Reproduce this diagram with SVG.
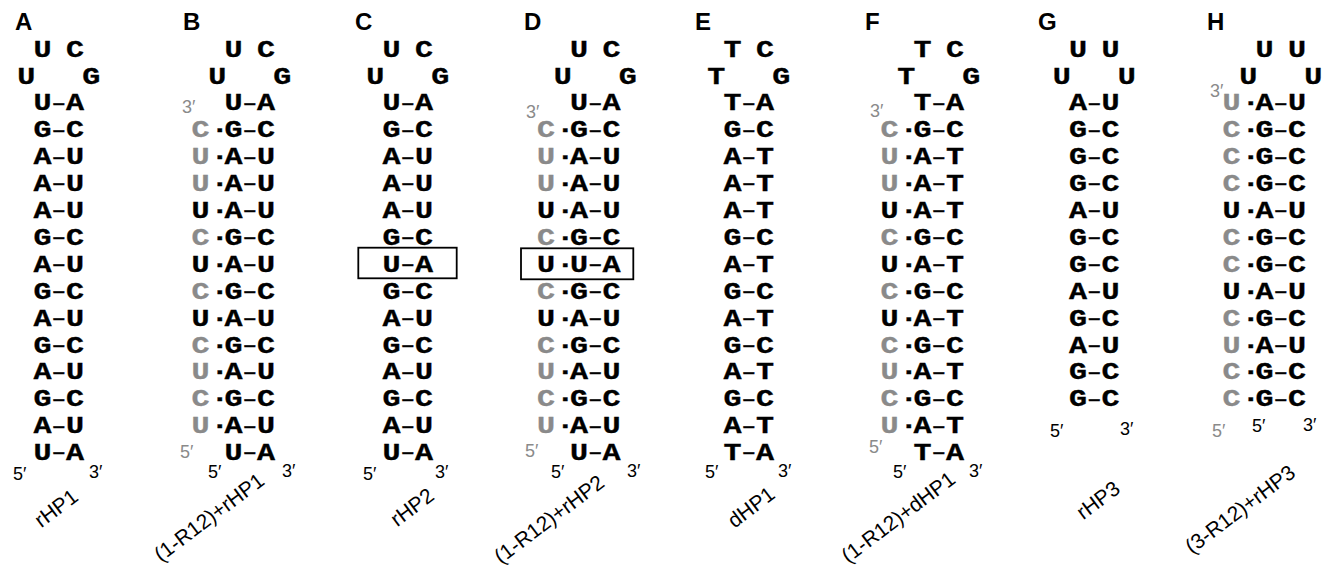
<svg xmlns="http://www.w3.org/2000/svg" width="1331" height="568" viewBox="0 0 1331 568">
<style>
.b{font-family:"Liberation Mono","DejaVu Sans Mono",monospace;font-weight:bold;font-size:23.5px;fill:#000;stroke:#000;stroke-width:0.3;text-anchor:middle}
.g{font-family:"Liberation Mono","DejaVu Sans Mono",monospace;font-weight:bold;font-size:23.5px;fill:#8a8a8a;stroke:#8a8a8a;stroke-width:0.3;text-anchor:middle}
.d{font-size:19px;baseline-shift:2px}
.e{font-family:"Liberation Sans",Arial,sans-serif;font-size:18px;fill:#000}
.eg{font-family:"Liberation Sans",Arial,sans-serif;font-size:18px;fill:#8a8a8a}
.pl{font-family:"Liberation Sans",Arial,sans-serif;font-weight:bold;font-size:24px;fill:#000}
.nm{font-family:"Liberation Sans",Arial,sans-serif;font-size:21px;fill:#000;text-anchor:middle}
.box{fill:none;stroke:#000;stroke-width:1.8}
</style>
<rect width="1331" height="568" fill="#fff"/>

<g id="panelA">
<text class="pl" x="15" y="30">A</text>
<g transform="translate(42.5,0) scale(1.28,1)">
<text class="b" x="0 25.39" y="56.7">UC</text>
<text class="b" x="-12.66 38.13" y="83.6">UG</text>
<text class="b" x="0 12.7 25.39" y="110.5">U<tspan class="d">–</tspan>A</text>
<text class="b" x="0 12.7 25.39" y="137.4">G<tspan class="d">–</tspan>C</text>
<text class="b" x="0 12.7 25.39" y="164.3">A<tspan class="d">–</tspan>U</text>
<text class="b" x="0 12.7 25.39" y="191.2">A<tspan class="d">–</tspan>U</text>
<text class="b" x="0 12.7 25.39" y="218.1">A<tspan class="d">–</tspan>U</text>
<text class="b" x="0 12.7 25.39" y="245.0">G<tspan class="d">–</tspan>C</text>
<text class="b" x="0 12.7 25.39" y="271.9">A<tspan class="d">–</tspan>U</text>
<text class="b" x="0 12.7 25.39" y="298.8">G<tspan class="d">–</tspan>C</text>
<text class="b" x="0 12.7 25.39" y="325.7">A<tspan class="d">–</tspan>U</text>
<text class="b" x="0 12.7 25.39" y="352.6">G<tspan class="d">–</tspan>C</text>
<text class="b" x="0 12.7 25.39" y="379.5">A<tspan class="d">–</tspan>U</text>
<text class="b" x="0 12.7 25.39" y="406.4">G<tspan class="d">–</tspan>C</text>
<text class="b" x="0 12.7 25.39" y="433.3">A<tspan class="d">–</tspan>U</text>
<text class="b" x="0 12.7 25.39" y="460.2">U<tspan class="d">–</tspan>A</text>
</g>
<text class="e" x="13" y="480">5′</text>
<text class="e" x="89" y="478">3′</text>
<text class="nm" transform="translate(56,508) rotate(-37)" dy="0.35em">rHP1</text>
</g>

<g id="panelB">
<text class="pl" x="183" y="30">B</text>
<text class="eg" x="182" y="113">3′</text>
<g transform="translate(233.5,0) scale(1.28,1)">
<text class="b" x="0 25.39" y="56.7">UC</text>
<text class="b" x="-12.66 38.13" y="83.6">UG</text>
<text class="b" x="0 12.7 25.39" y="110.5">U<tspan class="d">–</tspan>A</text>
<text class="g" x="-25.78" y="137.4">C</text><text class="b" x="-10.7 0 12.7 25.39" y="137.4">·G<tspan class="d">–</tspan>C</text>
<text class="g" x="-25.78" y="164.3">U</text><text class="b" x="-10.7 0 12.7 25.39" y="164.3">·A<tspan class="d">–</tspan>U</text>
<text class="g" x="-25.78" y="191.2">U</text><text class="b" x="-10.7 0 12.7 25.39" y="191.2">·A<tspan class="d">–</tspan>U</text>
<text class="b" x="-25.78 -10.7 0 12.7 25.39" y="218.1">U·A<tspan class="d">–</tspan>U</text>
<text class="g" x="-25.78" y="245.0">C</text><text class="b" x="-10.7 0 12.7 25.39" y="245.0">·G<tspan class="d">–</tspan>C</text>
<text class="b" x="-25.78 -10.7 0 12.7 25.39" y="271.9">U·A<tspan class="d">–</tspan>U</text>
<text class="g" x="-25.78" y="298.8">C</text><text class="b" x="-10.7 0 12.7 25.39" y="298.8">·G<tspan class="d">–</tspan>C</text>
<text class="b" x="-25.78 -10.7 0 12.7 25.39" y="325.7">U·A<tspan class="d">–</tspan>U</text>
<text class="g" x="-25.78" y="352.6">C</text><text class="b" x="-10.7 0 12.7 25.39" y="352.6">·G<tspan class="d">–</tspan>C</text>
<text class="g" x="-25.78" y="379.5">U</text><text class="b" x="-10.7 0 12.7 25.39" y="379.5">·A<tspan class="d">–</tspan>U</text>
<text class="g" x="-25.78" y="406.4">C</text><text class="b" x="-10.7 0 12.7 25.39" y="406.4">·G<tspan class="d">–</tspan>C</text>
<text class="g" x="-25.78" y="433.3">U</text><text class="b" x="-10.7 0 12.7 25.39" y="433.3">·A<tspan class="d">–</tspan>U</text>
<text class="b" x="0 12.7 25.39" y="460.2">U<tspan class="d">–</tspan>A</text>
</g>
<text class="eg" x="180" y="458">5′</text>
<text class="e" x="208" y="478">5′</text>
<text class="e" x="282" y="477">3′</text>
<text class="nm" transform="translate(209,517) rotate(-37)" dy="0.35em">(1-R12)+rHP1</text>
</g>

<g id="panelC">
<text class="pl" x="355" y="30">C</text>
<rect class="box" x="358.3" y="247.7" width="98.4" height="30.6"/>
<g transform="translate(391.5,0) scale(1.28,1)">
<text class="b" x="0 25.39" y="56.7">UC</text>
<text class="b" x="-12.66 38.13" y="83.6">UG</text>
<text class="b" x="0 12.7 25.39" y="110.5">U<tspan class="d">–</tspan>A</text>
<text class="b" x="0 12.7 25.39" y="137.4">G<tspan class="d">–</tspan>C</text>
<text class="b" x="0 12.7 25.39" y="164.3">A<tspan class="d">–</tspan>U</text>
<text class="b" x="0 12.7 25.39" y="191.2">A<tspan class="d">–</tspan>U</text>
<text class="b" x="0 12.7 25.39" y="218.1">A<tspan class="d">–</tspan>U</text>
<text class="b" x="0 12.7 25.39" y="245.0">G<tspan class="d">–</tspan>C</text>
<text class="b" x="0 12.7 25.39" y="271.9">U<tspan class="d">–</tspan>A</text>
<text class="b" x="0 12.7 25.39" y="298.8">G<tspan class="d">–</tspan>C</text>
<text class="b" x="0 12.7 25.39" y="325.7">A<tspan class="d">–</tspan>U</text>
<text class="b" x="0 12.7 25.39" y="352.6">G<tspan class="d">–</tspan>C</text>
<text class="b" x="0 12.7 25.39" y="379.5">A<tspan class="d">–</tspan>U</text>
<text class="b" x="0 12.7 25.39" y="406.4">G<tspan class="d">–</tspan>C</text>
<text class="b" x="0 12.7 25.39" y="433.3">A<tspan class="d">–</tspan>U</text>
<text class="b" x="0 12.7 25.39" y="460.2">U<tspan class="d">–</tspan>A</text>
</g>
<text class="e" x="363" y="480">5′</text>
<text class="e" x="435" y="478">3′</text>
<text class="nm" transform="translate(412,507) rotate(-37)" dy="0.35em">rHP2</text>
</g>

<g id="panelD">
<text class="pl" x="524" y="30">D</text>
<text class="eg" x="526" y="118">3′</text>
<rect class="box" x="521" y="248.3" width="112.3" height="31"/>
<g transform="translate(579,0) scale(1.28,1)">
<text class="b" x="0 25.39" y="56.7">UC</text>
<text class="b" x="-12.66 38.13" y="83.6">UG</text>
<text class="b" x="0 12.7 25.39" y="110.5">U<tspan class="d">–</tspan>A</text>
<text class="g" x="-25.78" y="137.4">C</text><text class="b" x="-10.7 0 12.7 25.39" y="137.4">·G<tspan class="d">–</tspan>C</text>
<text class="g" x="-25.78" y="164.3">U</text><text class="b" x="-10.7 0 12.7 25.39" y="164.3">·A<tspan class="d">–</tspan>U</text>
<text class="g" x="-25.78" y="191.2">U</text><text class="b" x="-10.7 0 12.7 25.39" y="191.2">·A<tspan class="d">–</tspan>U</text>
<text class="b" x="-25.78 -10.7 0 12.7 25.39" y="218.1">U·A<tspan class="d">–</tspan>U</text>
<text class="g" x="-25.78" y="245.0">C</text><text class="b" x="-10.7 0 12.7 25.39" y="245.0">·G<tspan class="d">–</tspan>C</text>
<text class="b" x="-25.78 -10.7 0 12.7 25.39" y="271.9">U·U<tspan class="d">–</tspan>A</text>
<text class="g" x="-25.78" y="298.8">C</text><text class="b" x="-10.7 0 12.7 25.39" y="298.8">·G<tspan class="d">–</tspan>C</text>
<text class="b" x="-25.78 -10.7 0 12.7 25.39" y="325.7">U·A<tspan class="d">–</tspan>U</text>
<text class="g" x="-25.78" y="352.6">C</text><text class="b" x="-10.7 0 12.7 25.39" y="352.6">·G<tspan class="d">–</tspan>C</text>
<text class="g" x="-25.78" y="379.5">U</text><text class="b" x="-10.7 0 12.7 25.39" y="379.5">·A<tspan class="d">–</tspan>U</text>
<text class="g" x="-25.78" y="406.4">C</text><text class="b" x="-10.7 0 12.7 25.39" y="406.4">·G<tspan class="d">–</tspan>C</text>
<text class="g" x="-25.78" y="433.3">U</text><text class="b" x="-10.7 0 12.7 25.39" y="433.3">·A<tspan class="d">–</tspan>U</text>
<text class="b" x="0 12.7 25.39" y="460.2">U<tspan class="d">–</tspan>A</text>
</g>
<text class="eg" x="525" y="457">5′</text>
<text class="e" x="551" y="478">5′</text>
<text class="e" x="627" y="477">3′</text>
<text class="nm" transform="translate(549,519) rotate(-37)" dy="0.35em">(1-R12)+rHP2</text>
</g>

<g id="panelE">
<text class="pl" x="695" y="30">E</text>
<g transform="translate(732.5,0) scale(1.28,1)">
<text class="b" x="0 25.39" y="56.7">TC</text>
<text class="b" x="-12.66 38.13" y="83.6">TG</text>
<text class="b" x="0 12.7 25.39" y="110.5">T<tspan class="d">–</tspan>A</text>
<text class="b" x="0 12.7 25.39" y="137.4">G<tspan class="d">–</tspan>C</text>
<text class="b" x="0 12.7 25.39" y="164.3">A<tspan class="d">–</tspan>T</text>
<text class="b" x="0 12.7 25.39" y="191.2">A<tspan class="d">–</tspan>T</text>
<text class="b" x="0 12.7 25.39" y="218.1">A<tspan class="d">–</tspan>T</text>
<text class="b" x="0 12.7 25.39" y="245.0">G<tspan class="d">–</tspan>C</text>
<text class="b" x="0 12.7 25.39" y="271.9">A<tspan class="d">–</tspan>T</text>
<text class="b" x="0 12.7 25.39" y="298.8">G<tspan class="d">–</tspan>C</text>
<text class="b" x="0 12.7 25.39" y="325.7">A<tspan class="d">–</tspan>T</text>
<text class="b" x="0 12.7 25.39" y="352.6">G<tspan class="d">–</tspan>C</text>
<text class="b" x="0 12.7 25.39" y="379.5">A<tspan class="d">–</tspan>T</text>
<text class="b" x="0 12.7 25.39" y="406.4">G<tspan class="d">–</tspan>C</text>
<text class="b" x="0 12.7 25.39" y="433.3">A<tspan class="d">–</tspan>T</text>
<text class="b" x="0 12.7 25.39" y="460.2">T<tspan class="d">–</tspan>A</text>
</g>
<text class="e" x="705" y="478">5′</text>
<text class="e" x="778" y="477">3′</text>
<text class="nm" transform="translate(751,507) rotate(-37)" dy="0.35em">dHP1</text>
</g>

<g id="panelF">
<text class="pl" x="865" y="30">F</text>
<text class="eg" x="870" y="117">3′</text>
<g transform="translate(922.5,0) scale(1.28,1)">
<text class="b" x="0 25.39" y="56.7">TC</text>
<text class="b" x="-12.66 38.13" y="83.6">TG</text>
<text class="b" x="0 12.7 25.39" y="110.5">T<tspan class="d">–</tspan>A</text>
<text class="g" x="-25.78" y="137.4">C</text><text class="b" x="-10.7 0 12.7 25.39" y="137.4">·G<tspan class="d">–</tspan>C</text>
<text class="g" x="-25.78" y="164.3">U</text><text class="b" x="-10.7 0 12.7 25.39" y="164.3">·A<tspan class="d">–</tspan>T</text>
<text class="g" x="-25.78" y="191.2">U</text><text class="b" x="-10.7 0 12.7 25.39" y="191.2">·A<tspan class="d">–</tspan>T</text>
<text class="b" x="-25.78 -10.7 0 12.7 25.39" y="218.1">U·A<tspan class="d">–</tspan>T</text>
<text class="g" x="-25.78" y="245.0">C</text><text class="b" x="-10.7 0 12.7 25.39" y="245.0">·G<tspan class="d">–</tspan>C</text>
<text class="b" x="-25.78 -10.7 0 12.7 25.39" y="271.9">U·A<tspan class="d">–</tspan>T</text>
<text class="g" x="-25.78" y="298.8">C</text><text class="b" x="-10.7 0 12.7 25.39" y="298.8">·G<tspan class="d">–</tspan>C</text>
<text class="b" x="-25.78 -10.7 0 12.7 25.39" y="325.7">U·A<tspan class="d">–</tspan>T</text>
<text class="g" x="-25.78" y="352.6">C</text><text class="b" x="-10.7 0 12.7 25.39" y="352.6">·G<tspan class="d">–</tspan>C</text>
<text class="g" x="-25.78" y="379.5">U</text><text class="b" x="-10.7 0 12.7 25.39" y="379.5">·A<tspan class="d">–</tspan>T</text>
<text class="g" x="-25.78" y="406.4">C</text><text class="b" x="-10.7 0 12.7 25.39" y="406.4">·G<tspan class="d">–</tspan>C</text>
<text class="g" x="-25.78" y="433.3">U</text><text class="b" x="-10.7 0 12.7 25.39" y="433.3">·A<tspan class="d">–</tspan>T</text>
<text class="b" x="0 12.7 25.39" y="460.2">T<tspan class="d">–</tspan>A</text>
</g>
<text class="eg" x="869" y="453">5′</text>
<text class="e" x="893" y="478">5′</text>
<text class="e" x="969" y="477">3′</text>
<text class="nm" transform="translate(898,517) rotate(-37)" dy="0.35em">(1-R12)+dHP1</text>
</g>

<g id="panelG">
<text class="pl" x="1038" y="30">G</text>
<g transform="translate(1078,0) scale(1.28,1)">
<text class="b" x="0 25.39" y="56.7">UU</text>
<text class="b" x="-12.66 38.13" y="83.6">UU</text>
<text class="b" x="0 12.7 25.39" y="110.5">A<tspan class="d">–</tspan>U</text>
<text class="b" x="0 12.7 25.39" y="137.4">G<tspan class="d">–</tspan>C</text>
<text class="b" x="0 12.7 25.39" y="164.3">G<tspan class="d">–</tspan>C</text>
<text class="b" x="0 12.7 25.39" y="191.2">G<tspan class="d">–</tspan>C</text>
<text class="b" x="0 12.7 25.39" y="218.1">A<tspan class="d">–</tspan>U</text>
<text class="b" x="0 12.7 25.39" y="245.0">G<tspan class="d">–</tspan>C</text>
<text class="b" x="0 12.7 25.39" y="271.9">G<tspan class="d">–</tspan>C</text>
<text class="b" x="0 12.7 25.39" y="298.8">A<tspan class="d">–</tspan>U</text>
<text class="b" x="0 12.7 25.39" y="325.7">G<tspan class="d">–</tspan>C</text>
<text class="b" x="0 12.7 25.39" y="352.6">A<tspan class="d">–</tspan>U</text>
<text class="b" x="0 12.7 25.39" y="379.5">G<tspan class="d">–</tspan>C</text>
<text class="b" x="0 12.7 25.39" y="406.4">G<tspan class="d">–</tspan>C</text>
</g>
<text class="e" x="1050" y="437">5′</text>
<text class="e" x="1120" y="435">3′</text>
<text class="nm" transform="translate(1098,500) rotate(-37)" dy="0.35em">rHP3</text>
</g>

<g id="panelH">
<text class="pl" x="1207" y="30">H</text>
<text class="eg" x="1210" y="97">3′</text>
<g transform="translate(1264.5,0) scale(1.28,1)">
<text class="b" x="0 25.39" y="56.7">UU</text>
<text class="b" x="-12.66 38.13" y="83.6">UU</text>
<text class="g" x="-25.78" y="110.5">U</text><text class="b" x="-10.7 0 12.7 25.39" y="110.5">·A<tspan class="d">–</tspan>U</text>
<text class="g" x="-25.78" y="137.4">C</text><text class="b" x="-10.7 0 12.7 25.39" y="137.4">·G<tspan class="d">–</tspan>C</text>
<text class="g" x="-25.78" y="164.3">C</text><text class="b" x="-10.7 0 12.7 25.39" y="164.3">·G<tspan class="d">–</tspan>C</text>
<text class="g" x="-25.78" y="191.2">C</text><text class="b" x="-10.7 0 12.7 25.39" y="191.2">·G<tspan class="d">–</tspan>C</text>
<text class="b" x="-25.78 -10.7 0 12.7 25.39" y="218.1">U·A<tspan class="d">–</tspan>U</text>
<text class="g" x="-25.78" y="245.0">C</text><text class="b" x="-10.7 0 12.7 25.39" y="245.0">·G<tspan class="d">–</tspan>C</text>
<text class="g" x="-25.78" y="271.9">C</text><text class="b" x="-10.7 0 12.7 25.39" y="271.9">·G<tspan class="d">–</tspan>C</text>
<text class="b" x="-25.78 -10.7 0 12.7 25.39" y="298.8">U·A<tspan class="d">–</tspan>U</text>
<text class="g" x="-25.78" y="325.7">C</text><text class="b" x="-10.7 0 12.7 25.39" y="325.7">·G<tspan class="d">–</tspan>C</text>
<text class="g" x="-25.78" y="352.6">U</text><text class="b" x="-10.7 0 12.7 25.39" y="352.6">·A<tspan class="d">–</tspan>U</text>
<text class="g" x="-25.78" y="379.5">C</text><text class="b" x="-10.7 0 12.7 25.39" y="379.5">·G<tspan class="d">–</tspan>C</text>
<text class="g" x="-25.78" y="406.4">C</text><text class="b" x="-10.7 0 12.7 25.39" y="406.4">·G<tspan class="d">–</tspan>C</text>
</g>
<text class="eg" x="1212" y="437">5′</text>
<text class="e" x="1252" y="432">5′</text>
<text class="e" x="1303" y="431">3′</text>
<text class="nm" transform="translate(1240,509) rotate(-37)" dy="0.35em">(3-R12)+rHP3</text>
</g>
</svg>
